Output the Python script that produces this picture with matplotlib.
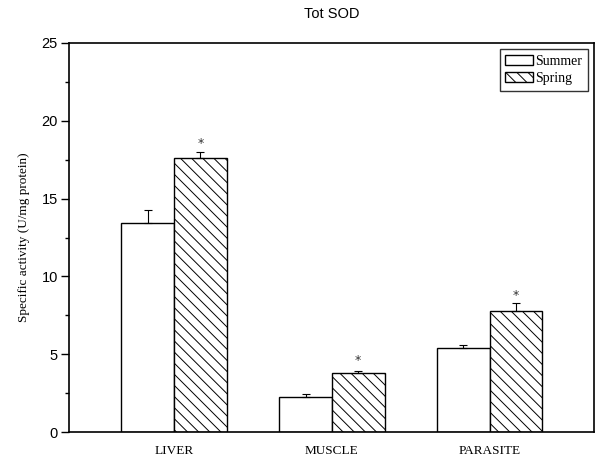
import numpy as np
import matplotlib
matplotlib.use("Agg")
import matplotlib.pyplot as plt

# values
tissues = ["LIVER", "MUSCLE", "PARASITE"]
summer = [13.45, 2.25, 5.42]
summer_err = [0.82, 0.17, 0.2]
spring = [17.6, 3.8, 7.78]
spring_err = [0.4, 0.13, 0.49]
star_y = [18.55, 4.6, 8.8]

plt.rcParams["hatch.linewidth"] = 0.7
plt.rcParams["hatch.color"] = "#444444"

fig = plt.figure(figsize=(5.95, 4.62), dpi=100)
ax = fig.add_axes([69 / 595, 30 / 462, 525 / 595, 389 / 462])

x = np.arange(1, len(tissues) + 1)
w = 1 / 3

ax.bar(x - w / 2, summer, w, color="white", edgecolor="black", linewidth=1.0,
       label="Summer", zorder=2)
ax.bar(x + w / 2, spring, w, color="white", edgecolor="black", linewidth=1.0,
       hatch="\\\\\\", label="Spring", zorder=2)

ax.errorbar(x - w / 2, summer, yerr=[np.zeros(3), summer_err], fmt="none",
            ecolor="black", elinewidth=0.8, capsize=3, capthick=0.8, zorder=3)
ax.errorbar(x + w / 2, spring, yerr=[np.zeros(3), spring_err], fmt="none",
            ecolor="black", elinewidth=0.8, capsize=3, capthick=0.8, zorder=3)

for xi, yi in zip(x + w / 2, star_y):
    ax.text(xi, yi, "*", ha="center", va="center", fontsize=9, color="#333333")

ax.set_xlim(0.335, 3.66)
ax.set_ylim(0, 25)
ax.set_xticks(x)
ax.set_xticklabels(tissues, family="Liberation Serif", fontsize=9.5)
ax.tick_params(axis="x", length=0, pad=9)
ax.set_yticks([0, 5, 10, 15, 20, 25])
ax.set_yticks(np.arange(2.5, 25, 5), minor=True)
ax.tick_params(axis="y", which="major", direction="out", length=6, width=1,
               labelsize=10.5, pad=2)
ax.tick_params(axis="y", which="minor", direction="out", length=3, width=1)
for lab in ax.get_yticklabels():
    lab.set_family("Liberation Sans")

for s in ax.spines.values():
    s.set_linewidth(1.2)

ax.set_ylabel("Specific activity (U/mg protein)", family="Liberation Serif",
              fontsize=9.5, labelpad=8)
ax.set_title("Tot SOD", family="Liberation Sans", fontsize=10.5, pad=18)

leg = ax.legend(loc="upper right", prop={"family": "Liberation Serif", "size": 10},
                frameon=True, fancybox=False, edgecolor="black",
                handlelength=2.0, handleheight=0.75, handletextpad=0.15,
                borderpad=0.4, labelspacing=0.3, borderaxespad=0.45)
leg.get_frame().set_linewidth(1.0)

fig.savefig("out.png", dpi=100)
